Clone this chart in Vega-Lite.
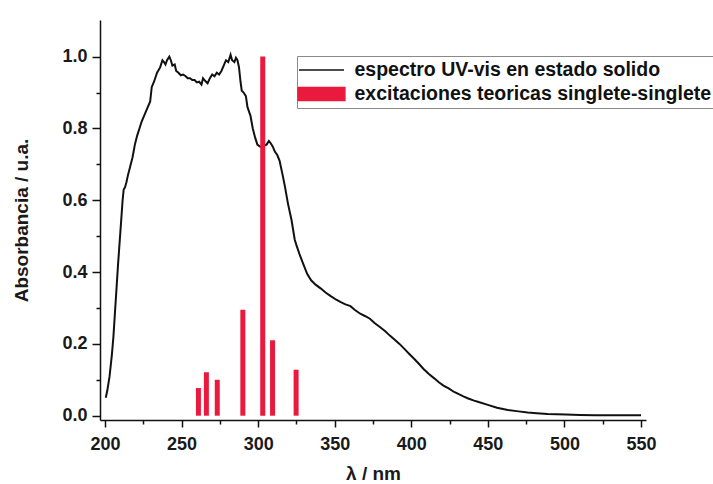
{
  "$schema": "https://vega.github.io/schema/vega-lite/v6.json",
  "width": 546,
  "height": 400,
  "autosize": {"type": "none"},
  "padding": {"left": 100, "top": 20, "right": 67, "bottom": 64},
  "background": "white",
  "config": {
    "view": {"stroke": null},
    "font": "Liberation Sans",
    "axis": {
      "labelFont": "Liberation Sans",
      "labelFontWeight": "bold",
      "labelFontSize": 18,
      "labelColor": "#1a1a1a",
      "titleFont": "Liberation Sans",
      "titleFontWeight": "bold",
      "titleFontSize": 19,
      "titleColor": "#1a1a1a",
      "domainColor": "#111",
      "domainWidth": 1.5,
      "tickColor": "#111",
      "tickWidth": 1.5,
      "grid": false
    }
  },
  "resolve": {"axis": {"x": "independent", "y": "independent"}},
  "layer": [
    {
      "data": {
        "values": [
          {"nm": 200.5, "A": 0.05}, {"nm": 201.5, "A": 0.07}, {"nm": 203, "A": 0.11},
          {"nm": 204.5, "A": 0.17}, {"nm": 205.5, "A": 0.22}, {"nm": 207, "A": 0.32},
          {"nm": 208.5, "A": 0.42}, {"nm": 210, "A": 0.51}, {"nm": 211.5, "A": 0.6},
          {"nm": 212.2, "A": 0.63}, {"nm": 213, "A": 0.635}, {"nm": 214, "A": 0.65},
          {"nm": 215, "A": 0.67}, {"nm": 216.5, "A": 0.695}, {"nm": 218, "A": 0.72},
          {"nm": 219.5, "A": 0.755}, {"nm": 221, "A": 0.78}, {"nm": 222.5, "A": 0.8},
          {"nm": 224, "A": 0.82}, {"nm": 226, "A": 0.84}, {"nm": 228, "A": 0.86},
          {"nm": 229.5, "A": 0.875}, {"nm": 230.5, "A": 0.915}, {"nm": 232, "A": 0.93},
          {"nm": 234, "A": 0.955}, {"nm": 236, "A": 0.97}, {"nm": 237.5, "A": 0.99},
          {"nm": 238.5, "A": 0.985}, {"nm": 239.5, "A": 0.978}, {"nm": 240.5, "A": 0.99},
          {"nm": 242, "A": 1.0}, {"nm": 243, "A": 0.99}, {"nm": 244, "A": 0.975},
          {"nm": 245.5, "A": 0.978}, {"nm": 246.5, "A": 0.96}, {"nm": 248, "A": 0.955},
          {"nm": 249.5, "A": 0.948}, {"nm": 251, "A": 0.95}, {"nm": 252.5, "A": 0.946},
          {"nm": 254, "A": 0.94}, {"nm": 255.5, "A": 0.94}, {"nm": 257, "A": 0.935},
          {"nm": 258.5, "A": 0.935}, {"nm": 260, "A": 0.928}, {"nm": 261.5, "A": 0.93},
          {"nm": 263, "A": 0.922}, {"nm": 264, "A": 0.94}, {"nm": 265.5, "A": 0.932},
          {"nm": 267, "A": 0.926}, {"nm": 268.5, "A": 0.94}, {"nm": 270, "A": 0.95},
          {"nm": 271.5, "A": 0.945}, {"nm": 273, "A": 0.955}, {"nm": 274.5, "A": 0.95},
          {"nm": 276, "A": 0.96}, {"nm": 277.5, "A": 0.975}, {"nm": 279, "A": 0.99},
          {"nm": 280.5, "A": 0.985}, {"nm": 282, "A": 1.005}, {"nm": 283, "A": 0.99},
          {"nm": 284.5, "A": 0.985}, {"nm": 285.5, "A": 0.997}, {"nm": 286.5, "A": 0.99},
          {"nm": 287.5, "A": 0.97}, {"nm": 288.5, "A": 0.93}, {"nm": 289.3, "A": 0.905},
          {"nm": 290.5, "A": 0.9}, {"nm": 292, "A": 0.89}, {"nm": 293, "A": 0.86},
          {"nm": 295, "A": 0.835}, {"nm": 296.5, "A": 0.8}, {"nm": 298, "A": 0.775},
          {"nm": 299.5, "A": 0.755}, {"nm": 301, "A": 0.75}, {"nm": 302.5, "A": 0.748},
          {"nm": 304, "A": 0.752}, {"nm": 305.5, "A": 0.755}, {"nm": 307, "A": 0.765},
          {"nm": 308, "A": 0.76}, {"nm": 309.5, "A": 0.75}, {"nm": 311, "A": 0.735},
          {"nm": 312.5, "A": 0.726}, {"nm": 314, "A": 0.71}, {"nm": 316, "A": 0.67},
          {"nm": 317.5, "A": 0.638}, {"nm": 319.5, "A": 0.59}, {"nm": 321.8, "A": 0.545},
          {"nm": 323.9, "A": 0.49}, {"nm": 325, "A": 0.475}, {"nm": 327, "A": 0.45},
          {"nm": 329.3, "A": 0.424}, {"nm": 332, "A": 0.395}, {"nm": 334.6, "A": 0.377},
          {"nm": 337.5, "A": 0.365}, {"nm": 341, "A": 0.354}, {"nm": 344, "A": 0.343},
          {"nm": 347.4, "A": 0.333}, {"nm": 351, "A": 0.323}, {"nm": 354, "A": 0.316},
          {"nm": 357, "A": 0.31}, {"nm": 360.3, "A": 0.305}, {"nm": 363, "A": 0.295},
          {"nm": 366.7, "A": 0.284}, {"nm": 370, "A": 0.277}, {"nm": 373, "A": 0.27},
          {"nm": 376, "A": 0.258}, {"nm": 379.5, "A": 0.247}, {"nm": 383, "A": 0.235},
          {"nm": 386, "A": 0.223}, {"nm": 389, "A": 0.212}, {"nm": 392.3, "A": 0.2},
          {"nm": 395.5, "A": 0.186}, {"nm": 398.7, "A": 0.172}, {"nm": 402, "A": 0.158},
          {"nm": 405.1, "A": 0.144}, {"nm": 408, "A": 0.13}, {"nm": 411.5, "A": 0.116},
          {"nm": 415, "A": 0.104}, {"nm": 418, "A": 0.093}, {"nm": 421, "A": 0.084},
          {"nm": 424.4, "A": 0.076}, {"nm": 428, "A": 0.066}, {"nm": 431, "A": 0.06},
          {"nm": 434, "A": 0.054}, {"nm": 437.2, "A": 0.048}, {"nm": 441, "A": 0.042},
          {"nm": 444, "A": 0.038}, {"nm": 450, "A": 0.03}, {"nm": 456, "A": 0.022},
          {"nm": 463, "A": 0.016}, {"nm": 470, "A": 0.012}, {"nm": 476, "A": 0.009},
          {"nm": 482, "A": 0.007}, {"nm": 489, "A": 0.005}, {"nm": 495, "A": 0.004},
          {"nm": 501, "A": 0.003}, {"nm": 510, "A": 0.002}, {"nm": 520, "A": 0.001},
          {"nm": 530, "A": 0.001}, {"nm": 540, "A": 0.001}, {"nm": 550, "A": 0.001}
        ]
      },
      "mark": {"type": "line", "strokeWidth": 2, "interpolate": "linear"},
      "encoding": {
        "x": {
          "field": "nm", "type": "quantitative",
          "scale": {"domain": [200, 550], "nice": false},
          "axis": {
            "orient": "bottom", "title": "λ / nm",
            "values": [200, 250, 300, 350, 400, 450, 500, 550],
            "tickSize": 7, "labelPadding": 8, "titlePadding": 11,
            "labelFlush": false
          }
        },
        "y": {
          "field": "A", "type": "quantitative",
          "scale": {"domain": [-0.012, 1.102], "nice": false, "zero": false},
          "axis": {
            "orient": "left", "title": "Absorbancia / u.a.",
            "values": [0, 0.2, 0.4, 0.6, 0.8, 1.0],
            "format": ".1f",
            "tickSize": 8, "labelPadding": 5, "titlePadding": 30,
            "labelFlush": false
          }
        },
        "color": {
          "datum": "espectro UV-vis en estado solido",
          "type": "nominal",
          "scale": {
            "domain": ["espectro UV-vis en estado solido", "excitaciones teoricas singlete-singlete"],
            "range": ["#111111", "#ea1a3e"]
          },
          "legend": {
            "orient": "none",
            "legendX": 197,
            "legendY": 36,
            "title": null,
            "padding": 4,
            "strokeColor": "#8a8a8a",
            "fillColor": "white",
            "labelFont": "Liberation Sans",
            "labelFontWeight": "bold",
            "labelFontSize": 19.5,
            "labelColor": "#111",
            "labelLimit": 500,
            "symbolSize": 324,
            "symbolOffset": 10.5,
            "labelOffset": 23,
            "rowPadding": 4,
            "symbolStrokeWidth": 1.5,
            "encode": {
              "symbols": {
                "update": {
                  "shape": {"signal": "datum.value === 'espectro UV-vis en estado solido' ? 'M-2.5,0H2.5' : 'M-2.6,-0.72H2.6V0.72H-2.6Z'"},
                  "fill": {"signal": "datum.value === 'espectro UV-vis en estado solido' ? 'transparent' : '#ea1a3e'"},
                  "stroke": {"signal": "datum.value === 'espectro UV-vis en estado solido' ? '#111111' : '#ea1a3e'"}
                }
              }
            }
          }
        }
      }
    },
    {
      "data": {
        "values": [
          {"nm": 261, "A": 0.077},
          {"nm": 266.2, "A": 0.121},
          {"nm": 273.3, "A": 0.1},
          {"nm": 290, "A": 0.295},
          {"nm": 303, "A": 1.0},
          {"nm": 309.4, "A": 0.21},
          {"nm": 324.8, "A": 0.128}
        ]
      },
      "mark": {"type": "bar", "size": 5},
      "encoding": {
        "x": {
          "field": "nm", "type": "quantitative",
          "scale": {"domain": [200, 550], "nice": false},
          "axis": {
            "orient": "bottom", "title": null, "labels": false, "domain": false,
            "values": [225, 275, 325, 375, 425, 475, 525],
            "tickSize": 4
          }
        },
        "y": {
          "field": "A", "type": "quantitative",
          "scale": {"domain": [-0.012, 1.102], "nice": false, "zero": false},
          "axis": {
            "orient": "left", "title": null, "labels": false, "domain": false,
            "values": [0.1, 0.3, 0.5, 0.7, 0.9],
            "tickSize": 4
          }
        },
        "color": {
          "datum": "excitaciones teoricas singlete-singlete",
          "type": "nominal"
        }
      }
    }
  ]
}
